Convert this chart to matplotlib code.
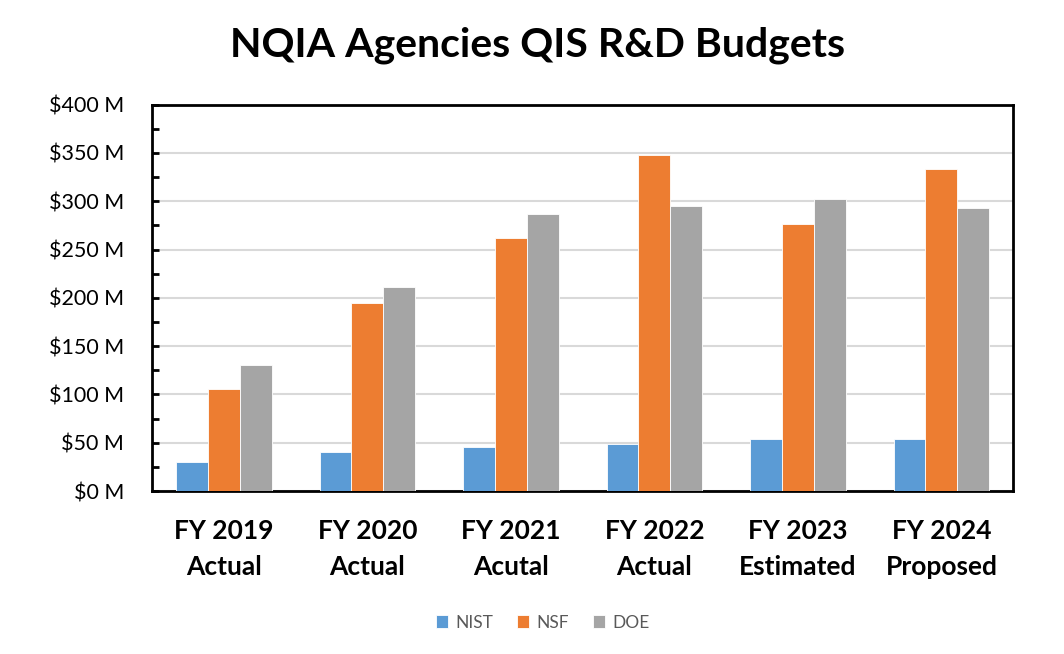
import matplotlib.pyplot as plt
import numpy as np
from matplotlib.ticker import MultipleLocator, FuncFormatter

# budget values in $M
categories = ['FY 2019\nActual', 'FY 2020\nActual', 'FY 2021\nAcutal',
              'FY 2022\nActual', 'FY 2023\nEstimated', 'FY 2024\nProposed']
nist = [30, 40, 46, 49, 54, 54]
nsf = [106, 195, 262, 348, 276, 333]
doe = [130, 211, 287, 295, 302, 293]
series_names = ['NIST', 'NSF', 'DOE']

plt.rcParams['font.family'] = ['Lato', 'DejaVu Sans']

fig = plt.figure(figsize=(10.64, 6.54), dpi=100)
ax = fig.add_axes([0.1429, 0.2492, 0.8093, 0.5907])

colors = ['#5b9bd5', '#ed7d31', '#a5a5a5']
x = np.arange(len(categories))
w = 0.222
for i, (vals, name) in enumerate(zip([nist, nsf, doe], series_names)):
    ax.bar(x + (i - 1) * w, vals, width=w, color=colors[i], label=name,
           edgecolor='white', linewidth=0.6, zorder=3)

ax.set_xlim(-0.5, len(categories) - 0.5)
ax.set_ylim(0, 400)
ax.yaxis.set_major_locator(MultipleLocator(50))
ax.yaxis.set_minor_locator(MultipleLocator(25))
ax.yaxis.set_major_formatter(FuncFormatter(lambda v, p: '$%d M' % v))
ax.grid(axis='y', color='#d9d9d9', linewidth=1.5, zorder=0)

for s in ax.spines.values():
    s.set_linewidth(2)
    s.set_color('black')

ax.tick_params(axis='y', which='both', direction='in', length=5, width=2,
               labelsize=15.5, pad=20)
ax.tick_params(axis='x', length=0, labelsize=19, pad=20)
ax.set_xticks(x)
ax.set_xticklabels(categories, fontweight='bold', linespacing=1.62)

fig.text(0.505, 0.931, 'NQIA Agencies QIS R&D Budgets', ha='center', va='center',
         fontsize=29.5, fontweight='bold')

leg = fig.legend(loc='center', bbox_to_anchor=(0.51, 0.048), ncol=3, frameon=False,
                 fontsize=12.5, handlelength=0.7, handleheight=0.7,
                 handletextpad=0.4, columnspacing=1.4)
for t in leg.get_texts():
    t.set_color('#595959')

fig.savefig('out.png', dpi=100)
